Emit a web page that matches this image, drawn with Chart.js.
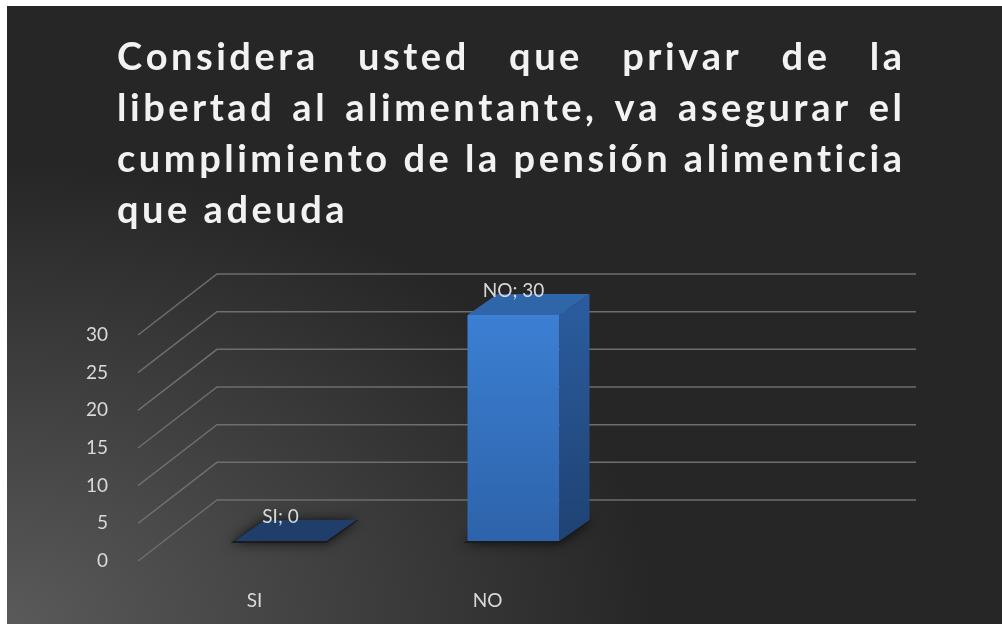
<!DOCTYPE html>
<html>
<head>
<meta charset="utf-8">
<script src="https://cdn.jsdelivr.net/npm/chart.js@4.4.0/dist/chart.umd.min.js"></script>
<style>
  body { margin: 0; background: #ffffff; }
  #wrap {
    position: absolute; left: 7px; top: 6px; width: 995px; height: 618px;
    background: radial-gradient(ellipse 650px 460px at 0% 100%, #5a5a5a 0%, #262626 100%);
  }
</style>
</head>
<body>
<div id="wrap"><canvas id="chart" width="995" height="618"></canvas></div>
<script>
// title, categories and values
let titleLines = [
    'Considera usted que privar de la',
    'libertad al alimentante, va asegurar el',
    'cumplimiento de la pensión alimenticia',
    'que adeuda'
];
let categories = ['SI', 'NO', ''];   // third slot is empty in the original sheet
let answers = [0, 30, null];
let yTicks = [0, 5, 10, 15, 20, 25, 30];

// 3D look: depth of the floor and of the bars, in px
const DX = 79, DY = 61;
const BAR_FX = 26, BAR_FY = 20;   // front of bar from front of floor
const BAR_DX = 30, BAR_DY = 21;   // bar depth

function charsWidth(ctx, text, ls) {
    let w = 0;
    for (let ch of text) w += ctx.measureText(ch).width + ls;
    return w - ls;
}
function drawSpaced(ctx, text, x, y, ls) {
    for (let ch of text) {
        ctx.fillText(ch, x, y);
        x += ctx.measureText(ch).width + ls;
    }
}

// justified title like the office chart
let titlePlugin = {
    id: 'justTitle',
    beforeDraw(chart) {
        let ctx = chart.ctx;
        let left = 110, right = 895, top = 64, lineH = 51;
        let width = right - left;
        ctx.save();
        ctx.font = 'bold 38px Lato';
        ctx.fillStyle = '#f2f2f2';
        ctx.textBaseline = 'alphabetic';
        // letter spacing so the tightest line just fits
        let ref = titleLines[2];
        let ls = (width - charsWidth(ctx, ref, 0)) / (ref.length - 1);
        ls = Math.max(0, Math.min(6, ls));
        let spaceW = ctx.measureText(' ').width + 2 * ls;
        titleLines.forEach((line, i) => {
            let words = line.split(' ');
            let y = top + i * lineH;
            let wordsW = words.reduce((s, w) => s + charsWidth(ctx, w, ls), 0);
            let gap = spaceW;
            if (i < titleLines.length - 1 && words.length > 1) gap = (width - wordsW) / (words.length - 1);
            let x = left;
            words.forEach(w => {
                drawSpaced(ctx, w, x, y, ls);
                x += charsWidth(ctx, w, ls) + gap;
            });
        });
        ctx.restore();
    }
};

// perspective gridlines: short diagonal from the front, then along the back wall
let gridPlugin = {
    id: 'grid3d',
    beforeDatasetsDraw(chart) {
        let ctx = chart.ctx, a = chart.chartArea, ys = chart.scales.y;
        ctx.save();
        ctx.strokeStyle = '#6e6e6e';
        ctx.lineWidth = 1.5;
        ys.ticks.forEach(t => {
            let py = ys.getPixelForValue(t.value);
            ctx.beginPath();
            ctx.moveTo(a.left, py);
            ctx.lineTo(a.left + DX, py - DY);
            ctx.lineTo(a.right + DX, py - DY);
            ctx.stroke();
        });
        ctx.restore();
    }
};

function poly(ctx, pts) {
    ctx.beginPath();
    ctx.moveTo(pts[0][0], pts[0][1]);
    for (let i = 1; i < pts.length; i++) ctx.lineTo(pts[i][0], pts[i][1]);
    ctx.closePath();
}

// draws the bars as boxes from the bar elements chart.js laid out
let boxPlugin = {
    id: 'box3d',
    afterDatasetsDraw(chart) {
        let ctx = chart.ctx;
        let meta = chart.getDatasetMeta(0);
        ctx.save();
        meta.data.forEach((el, i) => {
            let v = answers[i];
            if (v === null || v === undefined) return;
            let l = el.x - el.width / 2 + BAR_FX, r = el.x + el.width / 2 + BAR_FX;
            let t = el.y - BAR_FY, b = el.base - BAR_FY;
            // soft shadow under the footprint
            ctx.save();
            ctx.shadowColor = 'rgba(0,0,0,0.75)';
            ctx.shadowBlur = 12;
            ctx.fillStyle = '#1b1b1b';
            poly(ctx, [[l - 4, b + 2], [r, b + 2], [r + BAR_DX + 2, b - BAR_DY], [l + BAR_DX, b - BAR_DY]]);
            ctx.fill();
            ctx.restore();

            if (b - t > 1) {
                let g = ctx.createLinearGradient(0, t, 0, b);
                g.addColorStop(0, '#3c7fd3');
                g.addColorStop(1, '#2d63aa');
                ctx.fillStyle = g;
                ctx.fillRect(l, t, r - l, b - t);
                let gs = ctx.createLinearGradient(0, t, 0, b);
                gs.addColorStop(0, '#2a5b9c');
                gs.addColorStop(1, '#1f4273');
                ctx.fillStyle = gs;
                poly(ctx, [[r, t], [r + BAR_DX, t - BAR_DY], [r + BAR_DX, b - BAR_DY], [r, b]]);
                ctx.fill();
                ctx.fillStyle = '#2f66aa';
            } else {
                ctx.fillStyle = '#1f3e69';
            }
            poly(ctx, [[l, t], [r, t], [r + BAR_DX, t - BAR_DY], [l + BAR_DX, t - BAR_DY]]);
            ctx.fill();

            // data label "CAT; value"
            ctx.font = '19px Lato';
            ctx.fillStyle = '#d9d9d9';
            ctx.textAlign = 'center';
            ctx.textBaseline = 'middle';
            ctx.fillText(categories[i] + '; ' + v, (l + r) / 2, t - 24);
        });
        ctx.restore();
    }
};

let ctx = document.getElementById('chart').getContext('2d');
let surveyChart = new Chart(ctx, {
    type: 'bar',
    data: {
        labels: categories,
        datasets: [{
            label: 'Respuestas',
            data: answers,
            backgroundColor: 'rgba(0,0,0,0)',
            borderWidth: 0,
            categoryPercentage: 1,
            barPercentage: 0.395
        }]
    },
    options: {
        responsive: false,
        animation: false,
        layout: { padding: { top: 329, right: 165, bottom: 0, left: 0 } },
        plugins: {
            legend: { display: false },
            tooltip: { enabled: false },
            title: { display: false }
        },
        scales: {
            x: {
                grid: { display: false },
                border: { display: false },
                ticks: { color: '#d9d9d9', font: { family: 'Lato', size: 19 }, padding: 20 },
                afterFit(scale) { scale.height = 63; }
            },
            y: {
                min: yTicks[0],
                max: yTicks[yTicks.length - 1],
                grid: { display: false },
                border: { display: false },
                ticks: { stepSize: yTicks[1] - yTicks[0], color: '#d9d9d9', font: { family: 'Lato', size: 19 }, padding: 22 },
                afterFit(scale) { scale.width = 131; }
            }
        }
    },
    plugins: [titlePlugin, gridPlugin, boxPlugin]
});
</script>
</body>
</html>
